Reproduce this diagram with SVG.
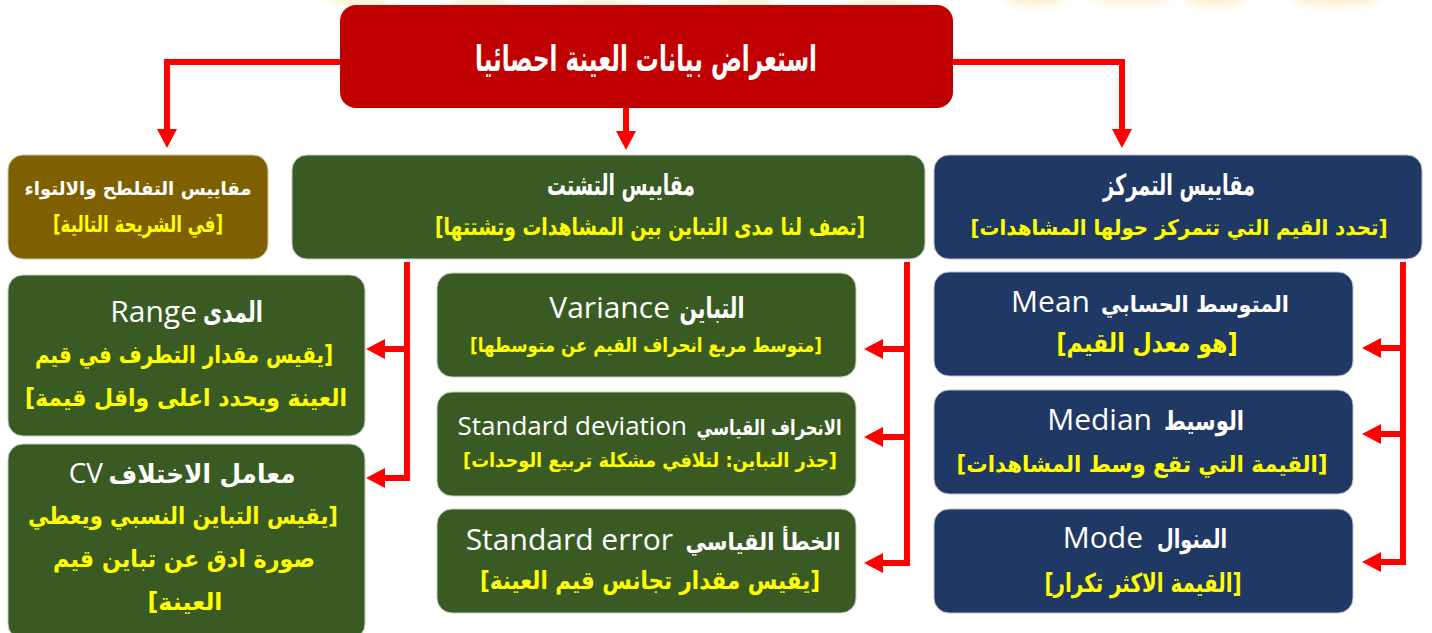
<svg xmlns="http://www.w3.org/2000/svg" width="1432" height="633" viewBox="0 0 1432 633">
<defs>
<marker id="ah" markerUnits="userSpaceOnUse" markerWidth="20" markerHeight="20" refX="0" refY="10" orient="auto" viewBox="0 0 20 20">
<path d="M0,0 L19,10 L0,20 Z" fill="#FF0000"/>
</marker>
<filter id="glow" x="-50%" y="-200%" width="200%" height="500%"><feGaussianBlur stdDeviation="5"/></filter>
</defs>
<style>
.en{font-family:"Open Sans","DejaVu Sans",sans-serif;fill:#FFFFFF;text-anchor:end}
.ar{font-family:"DejaVu Sans",sans-serif;font-weight:bold;fill:#FFFFFF;text-anchor:middle}
.y{font-family:"DejaVu Sans",sans-serif;font-weight:bold;fill:#FFFF00;text-anchor:middle}
.conn{stroke:#FF0000;stroke-width:6;fill:none;stroke-linejoin:miter}
.red{fill:#C00000}
.brown{fill:#7F6000;stroke:#c9c3b0;stroke-width:1}
.green{fill:#3A5A24;stroke:#c4ccbd;stroke-width:1}
.navy{fill:#203864;stroke:#b9c0cc;stroke-width:1}
</style>
<rect width="1432" height="633" fill="#FFFFFF"/>
<g id="glow-strip" filter="url(#glow)" fill="#FFD060" opacity="0.35">
<ellipse cx="360" cy="-2" rx="30" ry="7"/>
<ellipse cx="480" cy="-2" rx="30" ry="7"/>
<ellipse cx="600" cy="-3" rx="40" ry="6"/>
<ellipse cx="745" cy="-2" rx="30" ry="7"/>
<ellipse cx="880" cy="-3" rx="40" ry="6"/>
<ellipse cx="1035" cy="-2" rx="30" ry="7"/>
<ellipse cx="1130" cy="-3" rx="40" ry="6"/>
<ellipse cx="1215" cy="-2" rx="30" ry="7"/>
<ellipse cx="1335" cy="-2" rx="45" ry="7"/>
</g>

<g id="connectors">
<path class="conn" d="M340,62 H167 V129" marker-end="url(#ah)"/>
<path class="conn" d="M626,108 V131" marker-end="url(#ah)"/>
<path class="conn" d="M953,62 H1122 V129" marker-end="url(#ah)"/>
<path class="conn" d="M407,262 V478 H385" marker-end="url(#ah)"/>
<path class="conn" d="M407,349 H385" marker-end="url(#ah)"/>
<path class="conn" d="M907,262 V563 H883" marker-end="url(#ah)"/>
<path class="conn" d="M907,349 H883" marker-end="url(#ah)"/>
<path class="conn" d="M907,437 H883" marker-end="url(#ah)"/>
<path class="conn" d="M1403,262 V562 H1381" marker-end="url(#ah)"/>
<path class="conn" d="M1403,348 H1381" marker-end="url(#ah)"/>
<path class="conn" d="M1403,434 H1381" marker-end="url(#ah)"/>
</g>

<g id="root">
<rect class="red" x="340" y="5" width="613" height="103" rx="16"/>
<text class="ar" x="646" y="71" direction="rtl" font-size="36" textLength="342" lengthAdjust="spacingAndGlyphs">استعراض بيانات العينة احصائيا</text>
</g>

<g id="kurtosis">
<rect class="brown" x="8" y="155" width="260" height="104" rx="15"/>
<text class="ar" x="138" y="195" direction="rtl" font-size="18.5" textLength="227" lengthAdjust="spacingAndGlyphs">مقاييس التفلطح والالتواء</text>
<text class="y" x="138" y="232" direction="rtl" font-size="23" textLength="170" lengthAdjust="spacingAndGlyphs">[في الشريحة التالية]</text>
</g>

<g id="dispersion">
<rect class="green" x="292" y="155" width="633" height="104" rx="15"/>
<text class="ar" x="621" y="195" direction="rtl" font-size="29" textLength="148" lengthAdjust="spacingAndGlyphs">مقاييس التشتت</text>
<text class="y" x="650" y="235" direction="rtl" font-size="24" textLength="430" lengthAdjust="spacingAndGlyphs">[تصف لنا مدى التباين بين المشاهدات وتشتتها]</text>
</g>

<g id="central">
<rect class="navy" x="934" y="155" width="488" height="104" rx="15"/>
<text class="ar" x="1179" y="195" direction="rtl" font-size="29" textLength="152" lengthAdjust="spacingAndGlyphs">مقاييس التمركز</text>
<text class="y" x="1179" y="235" direction="rtl" font-size="21.5" textLength="417" lengthAdjust="spacingAndGlyphs">[تحدد القيم التي تتمركز حولها المشاهدات]</text>
</g>

<g id="range">
<rect class="green" x="8" y="275" width="357" height="161" rx="15"/>
<text class="en" x="197" y="322" font-size="30">Range</text>
<text class="ar" x="233" y="322" direction="rtl" font-size="29" textLength="60" lengthAdjust="spacingAndGlyphs">المدى</text>
<text class="y" x="184" y="363" direction="rtl" font-size="24" textLength="298" lengthAdjust="spacingAndGlyphs">[يقيس مقدار التطرف في قيم</text>
<text class="y" x="186" y="406" direction="rtl" font-size="24" textLength="322" lengthAdjust="spacingAndGlyphs">العينة ويحدد اعلى واقل قيمة]</text>
</g>

<g id="cv">
<rect class="green" x="8" y="444" width="357" height="195" rx="15"/>
<text class="en" x="103" y="483" font-size="28">CV</text>
<text class="ar" x="202" y="483" direction="rtl" font-size="26" textLength="187" lengthAdjust="spacingAndGlyphs">معامل الاختلاف</text>
<text class="y" x="183" y="524" direction="rtl" font-size="23.5" textLength="310" lengthAdjust="spacingAndGlyphs">[يقيس التباين النسبي ويعطي</text>
<text class="y" x="184" y="567" direction="rtl" font-size="24" textLength="262" lengthAdjust="spacingAndGlyphs">صورة ادق عن تباين قيم</text>
<text class="y" x="185" y="610" direction="rtl" font-size="24" textLength="75" lengthAdjust="spacingAndGlyphs">العينة]</text>
</g>

<g id="variance">
<rect class="green" x="437" y="273" width="419" height="104" rx="15"/>
<text class="en" x="670" y="318" font-size="30">Variance</text>
<text class="ar" x="712" y="318" direction="rtl" font-size="29" textLength="65" lengthAdjust="spacingAndGlyphs">التباين</text>
<text class="y" x="646" y="352" direction="rtl" font-size="19.5" textLength="352" lengthAdjust="spacingAndGlyphs">[متوسط مربع انحراف القيم عن متوسطها]</text>
</g>

<g id="sd">
<rect class="green" x="437" y="392" width="419" height="104" rx="15"/>
<text class="en" x="687" y="435" font-size="26">Standard deviation</text>
<text class="ar" x="769" y="435" direction="rtl" font-size="21" textLength="145" lengthAdjust="spacingAndGlyphs">الانحراف القياسي</text>
<text class="y" x="650" y="467" direction="rtl" font-size="19.5" textLength="374" lengthAdjust="spacingAndGlyphs">[جذر التباين: لتلافي مشكلة تربيع الوحدات]</text>
</g>

<g id="se">
<rect class="green" x="437" y="509" width="419" height="104" rx="15"/>
<text class="en" x="673" y="550" font-size="30">Standard error</text>
<text class="ar" x="763" y="550" direction="rtl" font-size="24" textLength="155" lengthAdjust="spacingAndGlyphs">الخطأ القياسي</text>
<text class="y" x="650" y="589" direction="rtl" font-size="25" textLength="340" lengthAdjust="spacingAndGlyphs">[يقيس مقدار تجانس قيم العينة]</text>
</g>

<g id="mean">
<rect class="navy" x="934" y="272" width="419" height="104" rx="15"/>
<text class="en" x="1090" y="312" font-size="30">Mean</text>
<text class="ar" x="1195" y="312" direction="rtl" font-size="22.5" textLength="188" lengthAdjust="spacingAndGlyphs">المتوسط الحسابي</text>
<text class="y" x="1147" y="352" direction="rtl" font-size="26" textLength="181" lengthAdjust="spacingAndGlyphs">[هو معدل القيم]</text>
</g>

<g id="median">
<rect class="navy" x="934" y="390" width="419" height="104" rx="15"/>
<text class="en" x="1152" y="430" font-size="30">Median</text>
<text class="ar" x="1204" y="430" direction="rtl" font-size="26.5" textLength="80" lengthAdjust="spacingAndGlyphs">الوسيط</text>
<text class="y" x="1142" y="472" direction="rtl" font-size="23" textLength="371" lengthAdjust="spacingAndGlyphs">[القيمة التي تقع وسط المشاهدات]</text>
</g>

<g id="mode">
<rect class="navy" x="934" y="509" width="419" height="104" rx="15"/>
<text class="en" x="1143" y="548" font-size="30">Mode</text>
<text class="ar" x="1192" y="548" direction="rtl" font-size="26" textLength="70" lengthAdjust="spacingAndGlyphs">المنوال</text>
<text class="y" x="1143" y="592" direction="rtl" font-size="26" textLength="197" lengthAdjust="spacingAndGlyphs">[القيمة الاكثر تكرار]</text>
</g>
</svg>
